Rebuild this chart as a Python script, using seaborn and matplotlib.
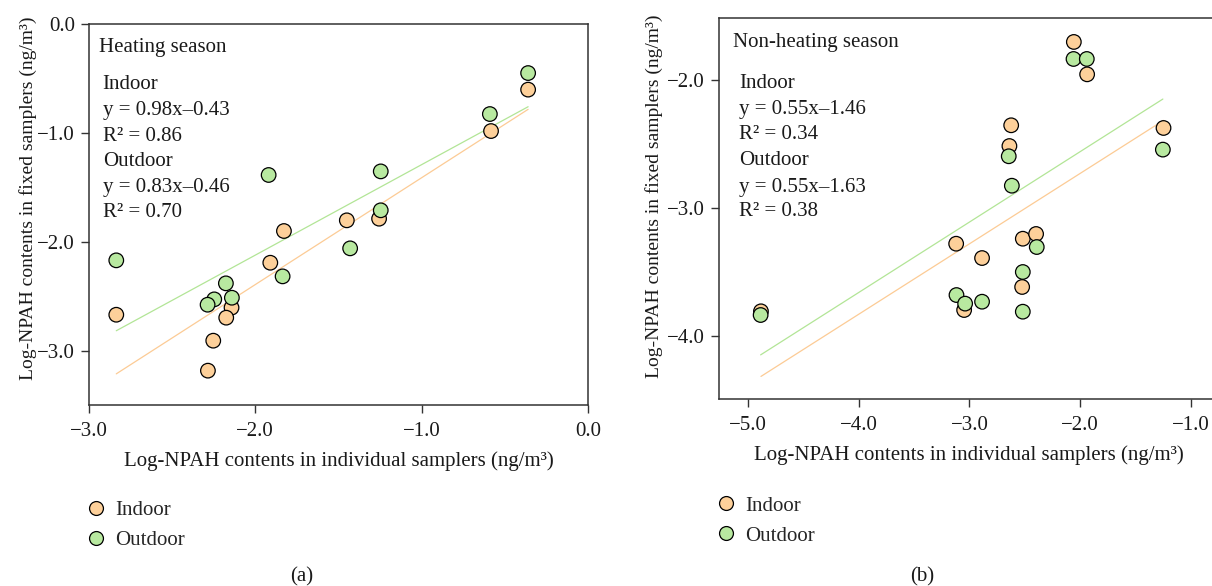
import numpy as np
import pandas as pd
import matplotlib
matplotlib.use("Agg")
import matplotlib.pyplot as plt
import seaborn as sns

# ---------------- data ----------------
# (a) Heating season
heat_in_x = [-0.36, -0.583, -1.45, -1.256, -1.828, -1.91, -2.836, -2.143, -2.175, -2.253, -2.285]
heat_in_y = [-0.602, -0.982, -1.801, -1.786, -1.899, -2.190, -2.667, -2.602, -2.694, -2.905, -3.180]
heat_out_x = [-0.36, -0.59, -1.246, -1.92, -1.246, -1.43, -2.836, -1.836, -2.177, -2.247, -2.141, -2.287]
heat_out_y = [-0.45, -0.826, -1.352, -1.385, -1.709, -2.058, -2.168, -2.315, -2.379, -2.526, -2.511, -2.575]

# (b) Non-heating season
non_in_x = [-2.057, -1.937, -2.623, -2.639, -1.247, -2.518, -2.398, -3.12, -2.886, -2.524, -3.048, -4.883]
non_in_y = [-1.703, -1.956, -2.354, -2.516, -2.375, -3.240, -3.203, -3.279, -3.391, -3.617, -3.797, -3.807]
non_out_x = [-2.060, -1.940, -2.645, -2.617, -1.253, -2.392, -2.518, -3.117, -3.039, -2.886, -2.518, -4.886]
non_out_y = [-1.836, -1.836, -2.596, -2.826, -2.544, -3.305, -3.50, -3.68, -3.747, -3.732, -3.81, -3.836]

groups = ["Indoor", "Outdoor"]

# regression lines as drawn (slope, intercept), keyed by the series colour of the line
heat_fit = {"Indoor": (0.98, -0.43), "Outdoor": (0.83, -0.46)}
# in panel (b) the green line follows y=0.55x-1.46 and the orange one y=0.55x-1.63
non_fit = {"Indoor": (0.55, -1.63), "Outdoor": (0.55, -1.46)}

heat_text = ["Indoor", "y = 0.98x\u20130.43", "R\u00b2 = 0.86",
             "Outdoor", "y = 0.83x\u20130.46", "R\u00b2 = 0.70"]
non_text = ["Indoor", "y = 0.55x\u20131.46", "R\u00b2 = 0.34",
            "Outdoor", "y = 0.55x\u20131.63", "R\u00b2 = 0.38"]

heat_xticks = [-3.0, -2.0, -1.0, 0.0]
heat_xticklabels = ["\u22123.0", "\u22122.0", "\u22121.0", "0.0"]
heat_yticks = [0.0, -1.0, -2.0, -3.0]
heat_yticklabels = ["0.0", "\u22121.0", "\u22122.0", "\u22123.0"]
non_xticks = [-5.0, -4.0, -3.0, -2.0, -1.0]
non_xticklabels = ["\u22125.0", "\u22124.0", "\u22123.0", "\u22122.0", "\u22121.0"]
non_yticks = [-2.0, -3.0, -4.0]
non_yticklabels = ["\u22122.0", "\u22123.0", "\u22124.0"]

xlabel = "Log-NPAH contents in individual samplers (ng/m\u00b3)"
ylabel = "Log-NPAH contents in fixed samplers (ng/m\u00b3)"

# ---------------- style ----------------
sns.set_theme(style="ticks")
plt.rcParams["font.family"] = ["Liberation Serif", "DejaVu Serif"]
FS = 15
palette = {"Indoor": "#FDD09A", "Outdoor": "#B8E9A0"}
line_col = {"Indoor": "#FCCB95", "Outdoor": "#B2E596"}
spine_col = "#333333"

W, H = 1212, 586
fig = plt.figure(figsize=(W / 100, H / 100), dpi=100)


def px_axes(left, top, right, bottom):
    return fig.add_axes([left / W, 1 - bottom / H, (right - left) / W, (bottom - top) / H])


ax1 = px_axes(89, 24, 588, 405)
ax2 = px_axes(719, 18, 1218, 399)


def make_df(in_x, in_y, out_x, out_y):
    return pd.DataFrame({
        "x": list(in_x) + list(out_x),
        "y": list(in_y) + list(out_y),
        "group": ["Indoor"] * len(in_x) + ["Outdoor"] * len(out_x),
    })


def panel(ax, df, fits, title, lines, xt, xtl, yt, ytl, xlim, ylim,
          title_pos, text_x, text_ys, ylab_pos, leg_pos, handle_len, text_pad):
    for g in groups:
        sub = df[df.group == g]
        slope, icpt = fits[g]
        xs = np.array([sub.x.min(), sub.x.max()])
        sns.lineplot(x=xs, y=slope * xs + icpt, ax=ax, color=line_col[g],
                     linewidth=0.9, legend=False, zorder=1)
    sns.scatterplot(data=df, x="x", y="y", hue="group", hue_order=groups,
                    palette=palette, s=110, edgecolor="black", linewidth=0.9,
                    ax=ax, zorder=3)
    ax.set_xlim(*xlim)
    ax.set_ylim(*ylim)
    ax.set_xticks(xt)
    ax.set_xticklabels(xtl)
    ax.set_yticks(yt)
    ax.set_yticklabels(ytl)
    ax.tick_params(labelsize=FS, length=6, width=1, color=spine_col, pad=4,
                   labelcolor="#1a1a1a")
    ax.tick_params(axis="x", pad=6)
    for sp in ax.spines.values():
        sp.set_visible(True)
        sp.set_color(spine_col)
        sp.set_linewidth(1.1)
    ax.set_xlabel(xlabel, fontsize=FS, color="#1a1a1a")
    ax.set_ylabel(ylabel, fontsize=14, color="#1a1a1a")
    ax.xaxis.set_label_coords(0.5, -0.122)
    ax.yaxis.set_label_coords(*ylab_pos)
    ax.text(title_pos[0], title_pos[1], title, transform=ax.transAxes,
            fontsize=FS, va="center", ha="left", color="#1a1a1a")
    for t, yy in zip(lines, text_ys):
        ax.text(text_x, yy, t, transform=ax.transAxes, fontsize=FS,
                va="center", ha="left", color="#1a1a1a")
    sns.move_legend(ax, loc="upper left", bbox_to_anchor=leg_pos, frameon=False,
                    title=None, fontsize=FS, handlelength=handle_len,
                    handletextpad=text_pad, borderpad=0, borderaxespad=0,
                    labelspacing=0.5)
    leg = ax.get_legend()
    for h in leg.legend_handles:
        h.set_markeredgecolor("black")
        h.set_markeredgewidth(0.9)
        h.set_markersize(10)


panel(ax1, make_df(heat_in_x, heat_in_y, heat_out_x, heat_out_y), heat_fit,
      "Heating season", heat_text, heat_xticks, heat_xticklabels,
      heat_yticks, heat_yticklabels, (-3.0, 0.0), (-3.495, 0.0),
      (0.020, 0.9396), 0.0275, [0.840, 0.774, 0.706, 0.638, 0.570, 0.504],
      (-0.105, 0.543), (0.0, -0.250), 0.7, 0.55)

panel(ax2, make_df(non_in_x, non_in_y, non_out_x, non_out_y), non_fit,
      "Non-heating season", non_text, non_xticks, non_xticklabels,
      non_yticks, non_yticklabels, (-5.262, -0.755), (-4.492, -1.516),
      (0.028, 0.937), 0.040, [0.827, 0.759, 0.693, 0.625, 0.556, 0.491],
      (-0.112, 0.533), (0.0, -0.255), 0.65, 0.6)

fig.text(302 / W, 1 - 577 / H, "(a)", fontsize=FS, ha="center", va="center", color="#1a1a1a")
fig.text(922 / W, 1 - 577 / H, "(b)", fontsize=FS, ha="center", va="center", color="#1a1a1a")

fig.savefig("out.png", dpi=100)
